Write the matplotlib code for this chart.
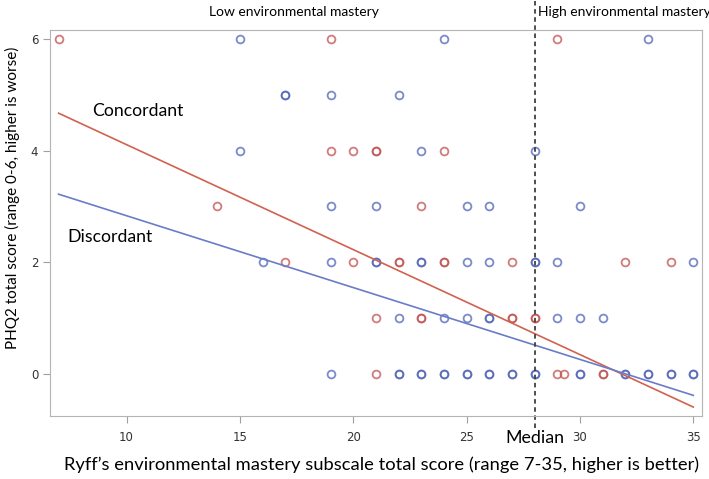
# PHQ2 vs Ryff environmental mastery, concordant vs discordant groups

import matplotlib.pyplot as plt

# Data (repeated entries = overlapping respondents)
concordant_x = [7, 19, 29,
                19, 20, 21, 21, 24,
                14, 23,
                17, 20, 22, 22, 24, 24, 27, 32, 34,
                21, 23, 23, 27, 27, 28, 28,
                21, 29, 29.3, 31, 31]
concordant_y = [6, 6, 6,
                4, 4, 4, 4, 4,
                3, 3,
                2, 2, 2, 2, 2, 2, 2, 2, 2,
                1, 1, 1, 1, 1, 1, 1,
                0, 0, 0, 0, 0]

discordant_x = [15, 24, 33,
                17, 17, 19, 22,
                15, 23, 28,
                19, 21, 25, 26, 30,
                16, 19, 21, 21, 23, 23, 25, 26, 28, 28, 29, 35,
                22, 24, 25, 26, 26, 29, 30, 31,
                19, 22, 22, 23, 23, 24, 24, 25, 25, 26, 26, 27, 27, 28, 28,
                30, 30, 32, 32, 33, 33, 34, 34, 35, 35]
discordant_y = [6, 6, 6,
                5, 5, 5, 5,
                4, 4, 4,
                3, 3, 3, 3, 3,
                2, 2, 2, 2, 2, 2, 2, 2, 2, 2, 2, 2,
                1, 1, 1, 1, 1, 1, 1, 1,
                0, 0, 0, 0, 0, 0, 0, 0, 0, 0, 0, 0, 0, 0, 0,
                0, 0, 0, 0, 0, 0, 0, 0, 0, 0]

# fitted regression lines (end points)
fit_x = [7, 35]
concordant_fit = [4.67, -0.59]
discordant_fit = [3.22, -0.38]

median_score = 28
xticks = [10, 15, 20, 25, 30, 35]
yticks = [0, 2, 4, 6]

red = '#c0504d'
blue = '#4f63b8'
label_font = 'Lato'

fig = plt.figure(figsize=(7.09, 4.79), dpi=100)
ax = fig.add_axes([0.0705, 0.1315, 0.9195, 0.806])

ax.plot(concordant_x, concordant_y, 'o', ls='none', ms=5.6, mfc='none',
        mec=red, mew=1.3, alpha=0.75)
ax.plot(discordant_x, discordant_y, 'o', ls='none', ms=5.6, mfc='none',
        mec=blue, mew=1.3, alpha=0.75)

ax.plot(fit_x, concordant_fit, color='#d0624f', lw=1.2)
ax.plot(fit_x, discordant_fit, color='#6a7cc8', lw=1.2)

# median line runs above and below the plot area
ax.axvline(median_score, ymin=-0.03, ymax=1.08, color='#404040', lw=1.3,
           ls=(0, (2.5, 2)), clip_on=False)

ax.text(8.47, 4.71, 'Concordant', fontsize=12.7, family=label_font, va='center')
ax.text(7.37, 2.46, 'Discordant', fontsize=12.7, family=label_font, va='center')

ax.text(0.374, 1.047, 'Low environmental mastery', transform=ax.transAxes,
        fontsize=10, family=label_font, ha='center', va='center')
ax.text(28.15, 1.047, 'High environmental mastery',
        transform=ax.get_xaxis_transform(), fontsize=10, family=label_font,
        ha='left', va='center')
ax.text(28, -0.058, 'Median', transform=ax.get_xaxis_transform(),
        fontsize=12.8, family=label_font, ha='center', va='center')

ax.set_xlim(6.62, 35.38)
ax.set_ylim(-0.75, 6.16)
ax.set_xticks(xticks)
ax.set_yticks(yticks)
ax.tick_params(colors='#a0a0a0', labelcolor='#333333', labelsize=8.5, length=5)
ax.tick_params(axis='x', pad=6)
for s in ax.spines.values():
    s.set_color('#b4b4b4')

ax.set_xlabel('Ryff\u2019s environmental mastery subscale total score (range 7-35, higher is better)',
              fontsize=13.2, family=label_font, va='center')
ax.set_ylabel('PHQ2 total score (range 0-6, higher is worse)',
              fontsize=11, family=label_font, va='center')
ax.xaxis.set_label_coords(0.509, -0.127)
ax.yaxis.set_label_coords(-0.058, 0.565)

plt.savefig('out.png', dpi=100)
